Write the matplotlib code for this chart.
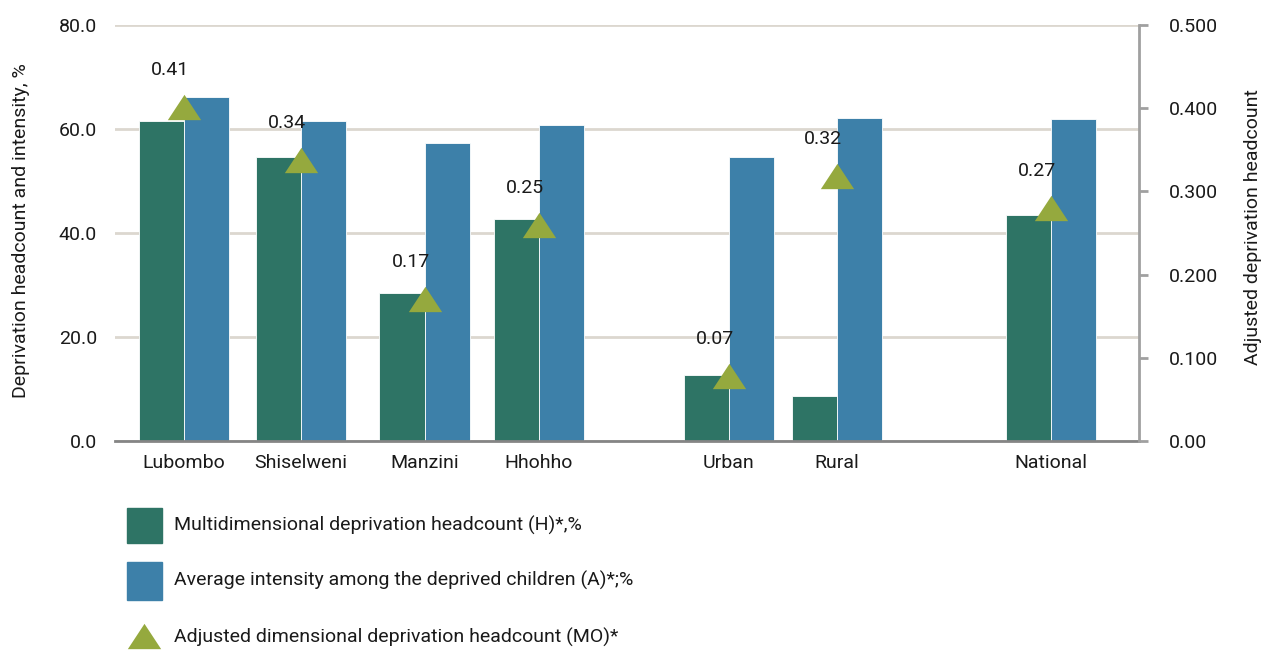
import matplotlib
matplotlib.use("Agg")
import matplotlib.pyplot as plt
from matplotlib.path import Path
from matplotlib.patches import Rectangle
from matplotlib.lines import Line2D

plt.rcParams['font.family'] = ['Roboto', 'DejaVu Sans']

categories = ["Lubombo", "Shiselweni", "Manzini", "Hhohho", "Urban", "Rural", "National"]
headcount_H = [61.5, 54.6, 28.5, 42.7, 12.7, 8.7, 43.5]
intensity_A = [66.2, 61.5, 57.3, 60.8, 54.6, 62.1, 61.9]
adjusted_M0 = [0.401, 0.338, 0.171, 0.26, 0.078, 0.318, 0.28]
m0_labels = ["0.41", "0.34", "0.17", "0.25", "0.07", "0.32", "0.27"]
left_ticks = [0, 20, 40, 60, 80]
left_tick_labels = ["0.0", "20.0", "40.0", "60.0", "80.0"]
right_ticks = [0, 0.1, 0.2, 0.3, 0.4, 0.5]
right_tick_labels = ["0.00", "0.100", "0.200", "0.300", "0.400", "0.500"]
legend_labels = ["Multidimensional deprivation headcount (H)*,%",
                 "Average intensity among the deprived children (A)*;%",
                 "Adjusted dimensional deprivation headcount (MO)*"]

# layout: slot positions (groups separated by gaps)
x_pos = [0, 1.035, 2.13, 3.14, 4.82, 5.78, 7.67]
bw = 0.4

GREEN = "#2e7465"
BLUE = "#3d80a9"
OLIVE = "#95a93e"
GRID = "#dcd7cf"
TXT = "#1a1a1a"

fig = plt.figure(figsize=(12.69, 6.5), dpi=100)
ax = fig.add_axes([115/1269, 1-441/650, (1139-115)/1269, 416/650])
ax2 = ax.twinx()

ax.bar([x - bw/2 for x in x_pos], headcount_H, width=bw, color=GREEN, zorder=3, edgecolor='white', linewidth=0.6)
ax.bar([x + bw/2 for x in x_pos], intensity_A, width=bw, color=BLUE, zorder=3, edgecolor='white', linewidth=0.6)

ax.set_ylim(0, 80)
ax.set_xlim(-0.61, 8.45)
ax.set_yticks(left_ticks)
ax.set_yticklabels(left_tick_labels)
ax.grid(axis='y', color=GRID, linewidth=2, zorder=0)
ax.set_axisbelow(True)
ax.tick_params(axis='y', length=0, pad=13, labelsize=14, labelcolor=TXT)
ax.set_xticks(x_pos)
ax.set_xticklabels(categories)
ax.tick_params(axis='x', length=0, pad=9, labelsize=14, labelcolor=TXT)
for s in ['top', 'right', 'left']:
    ax.spines[s].set_visible(False)
ax.spines['bottom'].set_color('#858585')
ax.spines['bottom'].set_linewidth(2)
ax.spines['bottom'].set_zorder(4)
ax.set_ylabel("Deprivation headcount and intensity, %", fontsize=14, color=TXT)
ax.yaxis.set_label_coords((30 - 115) / 1024, (441 - 231) / 416)

tri = Path([(-1, -0.76), (1, -0.76), (0, 0.76), (-1, -0.76)],
           [Path.MOVETO, Path.LINETO, Path.LINETO, Path.CLOSEPOLY])
ax2.plot(x_pos, adjusted_M0, linestyle='none', marker=tri, markersize=24,
         color=OLIVE, markeredgewidth=0, zorder=5)
for x, v, lab in zip(x_pos, adjusted_M0, m0_labels):
    ax2.annotate(lab, (x, v), xytext=(-14, 37), textcoords='offset pixels',
                 ha='center', va='center', fontsize=14, color=TXT)
ax2.set_ylim(0, 0.5)
ax2.set_yticks(right_ticks)
ax2.set_yticklabels(right_tick_labels)
ax2.tick_params(axis='y', length=6.5, width=2, color='#a0a0a0', pad=15, labelsize=14, labelcolor=TXT)
for s in ['top', 'left', 'bottom']:
    ax2.spines[s].set_visible(False)
ax2.spines['right'].set_color('#a0a0a0')
ax2.spines['right'].set_linewidth(2)
ax2.set_ylabel("Adjusted deprivation headcount", fontsize=14, color=TXT)
ax2.yaxis.set_label_coords((1244 - 115) / 1024, (441 - 227) / 416)

# legend
H, W = 650, 1269
def fx(px): return px / W
def fy(py): return 1 - py / H
fig.add_artist(Rectangle((fx(127), fy(543)), fx(35), 35/H, color=GREEN, transform=fig.transFigure))
fig.add_artist(Rectangle((fx(127), fy(600)), fx(35), 38/H, color=BLUE, transform=fig.transFigure))
fig.add_artist(Line2D([fx(144)], [fy(636)], marker=tri, markersize=24, color=OLIVE,
                      markeredgewidth=0, linestyle='none', transform=fig.transFigure))
for py, lab in zip([525, 580, 637], legend_labels):
    fig.text(fx(174), fy(py), lab, fontsize=14, color=TXT, va='center', ha='left')

fig.savefig("out.png", dpi=100)
